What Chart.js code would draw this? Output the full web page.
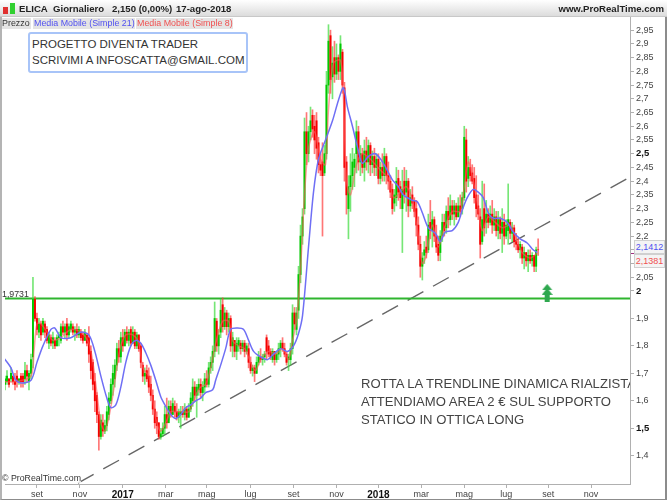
<!DOCTYPE html>
<html>
<head>
<meta charset="utf-8">
<script src="https://cdn.jsdelivr.net/npm/chart.js@4"></script>
<style>
body{margin:0;background:#fff;font-family:"Liberation Sans",Arial,sans-serif;}
#wrap{position:relative;width:667px;height:500px;overflow:hidden;}
#wrap canvas{position:absolute;left:0;top:0;}
.t{position:absolute;white-space:nowrap;pointer-events:none;}
.hd{position:absolute;top:3px;font:bold 9.6px 'Liberation Sans';color:#222;white-space:nowrap;}
#head{position:absolute;left:0;top:0;width:667px;height:17px;background:linear-gradient(#fff,#dcdcdc);border-bottom:1px solid #c8c8c8;box-sizing:border-box;}
#frame{position:absolute;left:0;top:17px;width:667px;height:483px;box-sizing:border-box;border-left:2px solid #b4b4b4;border-right:2px solid #8c8c8c;border-bottom:1px solid #8c8c8c;pointer-events:none;}
.tab{position:absolute;top:18px;height:11px;line-height:11px;font-size:8.9px;background:#e4e4e4;white-space:nowrap;}
.lastv{position:absolute;left:634px;width:29px;height:12px;line-height:12px;font-size:9px;background:#f4f4f4;border:1px solid #d0d0d0;box-sizing:content-box;text-align:center;}
</style>
</head>
<body>
<div id="wrap">
<canvas id="eli" width="667" height="500"></canvas>
<div id="head"></div>
<div class="t" style="left:3px;top:7px;width:5px;height:7px;background:#e03030;"></div>
<div class="t" style="left:10px;top:3px;width:5px;height:11px;background:#30d030;"></div>
<div class="hd" style="left:19px;">ELICA</div>
<div class="hd" style="left:53px;">Giornaliero</div>
<div class="hd" style="left:112px;">2,150 (0,00%)</div>
<div class="hd" style="left:176px;">17-ago-2018</div>
<div class="hd" style="right:3px;">www.ProRealTime.com</div>
<div class="tab" style="left:2px;width:29px;color:#333;">Prezzo</div>
<div class="tab" style="left:33px;width:101px;padding-left:1px;color:#5050f0;">Media Mobile (Simple 21)</div>
<div class="tab" style="left:136px;width:96px;padding-left:1px;color:#f05050;">Media Mobile (Simple 8)</div>
<div class="t" style="left:28px;top:32px;width:220px;height:41px;box-sizing:border-box;border:2px solid #a8c4f8;border-radius:3px;background:#fff;"></div>
<div class="t" style="left:32px;top:36px;font:11.5px/16px 'Liberation Sans';color:#333;">PROGETTO DIVENTA TRADER<br>SCRIVIMI A INFOSCATTA@GMAIL.COM</div>
<div class="t" style="left:2px;top:289px;font:8.8px 'Liberation Sans';color:#333;">1,9731</div>
<div class="t" style="left:2px;top:473px;font:8.8px 'Liberation Sans';color:#333;background:rgba(255,255,255,.8);">© ProRealTime.com</div>
<div class="t" style="left:361px;top:375px;width:269px;overflow:hidden;font:13.1px/18px 'Liberation Sans';color:#444;">ROTTA LA TRENDLINE DINAMICA RIALZISTA<br>ATTENDIAMO AREA 2 € SUL SUPPORTO<br>STATICO IN OTTICA LONG</div>
<div class="t" style="left:631px;top:253px;width:4px;height:1px;background:#a03080;"></div>
<div class="lastv" style="top:240px;color:#5050f0;">2,1412</div>
<div class="lastv" style="top:254px;color:#f05050;">2,1381</div>
<div id="frame"></div>
</div>
<script>
// one bar every 2 px of the picture
const lows=[
1.65,1.64,1.66,1.65,1.67,1.66,1.64,1.65,1.66,1.65,
1.65,1.66,1.67,1.64,1.68,1.72,1.89,1.84,1.83,1.82,
1.84,1.83,1.81,1.79,1.80,1.79,1.79,1.80,1.80,1.81,
1.84,1.83,1.82,1.83,1.85,1.84,1.82,1.83,1.83,1.82,
1.81,1.82,1.80,1.74,1.68,1.64,1.56,1.52,1.42,1.46,
1.47,1.48,1.49,1.53,1.59,1.62,1.65,1.71,1.74,1.74,
1.78,1.80,1.81,1.80,1.80,1.81,1.79,1.79,1.78,1.72,
1.67,1.66,1.67,1.63,1.60,1.55,1.50,1.48,1.46,1.46,
1.47,1.48,1.50,1.53,1.54,1.55,1.54,1.53,1.52,1.50,
1.54,1.53,1.53,1.54,1.56,1.58,1.60,1.54,1.62,1.61,
1.60,1.63,1.65,1.65,1.70,1.71,1.76,1.78,1.77,1.83,
1.85,1.86,1.84,1.85,1.78,1.76,1.76,1.75,1.78,1.77,
1.78,1.76,1.77,1.72,1.70,1.69,1.67,1.70,1.73,1.74,
1.73,1.74,1.75,1.76,1.75,1.74,1.73,1.74,1.75,1.76,
1.78,1.76,1.73,1.71,1.73,1.77,1.86,1.84,1.90,2.03,
2.17,2.28,2.46,2.47,2.55,2.56,2.50,2.48,2.43,2.42,
2.20,2.42,2.48,2.72,2.72,2.70,2.76,2.77,2.77,2.77,
2.72,2.40,2.28,2.19,2.29,2.37,2.38,2.43,2.44,2.42,
2.43,2.40,2.44,2.43,2.42,2.43,2.42,2.42,2.39,2.39,
2.40,2.40,2.39,2.37,2.34,2.28,2.29,2.31,2.33,2.30,
2.14,2.32,2.29,2.27,2.29,2.30,2.27,2.20,2.15,2.05,
2.04,2.10,2.12,2.14,2.19,2.16,2.18,2.14,2.11,2.11,
2.18,2.20,2.21,2.23,2.24,2.26,2.24,2.26,2.27,2.27,
2.28,2.33,2.36,2.38,2.40,2.39,2.32,2.27,2.26,2.12,
2.17,2.20,2.21,2.23,2.24,2.21,2.22,2.20,2.19,2.19,
2.14,2.17,2.19,2.17,2.19,2.18,2.16,2.15,2.14,2.12,
2.10,2.08,2.09,2.07,2.10,2.09,2.07,2.07,2.13];
const highs=[
1.70,1.69,1.71,1.68,1.72,1.69,1.70,1.71,1.68,1.70,
1.70,1.74,1.73,1.71,1.77,2.05,1.98,1.92,1.90,1.89,
1.90,1.89,1.87,1.85,1.84,1.85,1.83,1.84,1.85,1.88,
1.89,1.88,1.90,1.88,1.89,1.88,1.87,1.88,1.87,1.86,
1.85,1.86,1.84,1.87,1.80,1.75,1.70,1.63,1.56,1.55,
1.55,1.53,1.58,1.63,1.68,1.73,1.75,1.81,1.82,1.85,
1.86,1.86,1.87,1.86,1.87,1.87,1.86,1.85,1.84,1.81,
1.74,1.72,1.73,1.72,1.69,1.64,1.60,1.56,1.52,1.50,
1.52,1.58,1.61,1.60,1.60,1.61,1.60,1.59,1.57,1.58,
1.58,1.59,1.58,1.59,1.63,1.68,1.67,1.66,1.68,1.68,
1.67,1.70,1.71,1.74,1.76,1.80,1.96,1.90,1.86,1.97,
1.975,1.94,1.93,1.92,1.91,1.85,1.82,1.83,1.83,1.82,
1.82,1.82,1.81,1.81,1.76,1.73,1.73,1.76,1.78,1.79,
1.77,1.78,1.84,1.82,1.79,1.79,1.78,1.78,1.81,1.82,
1.83,1.81,1.78,1.77,1.81,1.95,1.94,1.94,2.09,2.24,
2.30,2.63,2.65,2.60,2.67,2.66,2.64,2.65,2.56,2.50,
2.54,2.53,2.80,2.97,2.95,2.89,2.91,2.90,2.86,2.93,
2.88,2.76,2.49,2.42,2.50,2.52,2.50,2.62,2.60,2.53,
2.52,2.55,2.56,2.55,2.54,2.51,2.52,2.50,2.50,2.47,
2.50,2.52,2.50,2.47,2.42,2.39,2.37,2.45,2.44,2.40,
2.44,2.45,2.44,2.41,2.37,2.38,2.34,2.33,2.27,2.20,
2.14,2.18,2.20,2.28,2.33,2.29,2.27,2.24,2.20,2.22,
2.28,2.28,2.31,2.34,2.35,2.33,2.33,2.32,2.34,2.35,
2.36,2.60,2.59,2.49,2.48,2.46,2.45,2.42,2.35,2.30,
2.40,2.39,2.33,2.30,2.31,2.33,2.30,2.29,2.29,2.27,
2.30,2.28,2.26,2.39,2.26,2.25,2.24,2.21,2.19,2.18,
2.17,2.16,2.14,2.15,2.15,2.14,2.13,2.16,2.19];
const opens=[
1.69,1.66,1.67,1.68,1.68,1.69,1.67,1.69,1.67,1.69,
1.69,1.68,1.71,1.67,1.70,1.76,1.97,1.90,1.85,1.88,
1.85,1.88,1.86,1.81,1.83,1.81,1.82,1.80,1.83,1.82,
1.87,1.85,1.88,1.84,1.86,1.87,1.85,1.86,1.84,1.85,
1.84,1.82,1.84,1.83,1.78,1.74,1.67,1.62,1.55,1.47,
1.52,1.49,1.51,1.55,1.60,1.66,1.68,1.73,1.79,1.76,
1.83,1.80,1.85,1.82,1.86,1.81,1.85,1.80,1.84,1.80,
1.73,1.69,1.71,1.69,1.66,1.62,1.57,1.54,1.52,1.47,
1.48,1.50,1.55,1.52,1.58,1.55,1.58,1.56,1.54,1.55,
1.56,1.55,1.57,1.54,1.57,1.60,1.65,1.62,1.64,1.66,
1.63,1.65,1.68,1.66,1.72,1.74,1.78,1.89,1.80,1.85,
1.95,1.87,1.92,1.87,1.90,1.80,1.82,1.78,1.80,1.81,
1.79,1.81,1.78,1.79,1.74,1.71,1.72,1.70,1.74,1.76,
1.75,1.76,1.83,1.80,1.78,1.75,1.78,1.75,1.77,1.79,
1.81,1.79,1.77,1.75,1.75,1.79,1.92,1.86,1.93,2.06,
2.20,2.30,2.58,2.50,2.58,2.64,2.60,2.62,2.54,2.46,
2.47,2.43,2.50,2.75,2.93,2.78,2.85,2.79,2.85,2.80,
2.87,2.74,2.47,2.30,2.38,2.42,2.45,2.50,2.58,2.47,
2.50,2.45,2.51,2.47,2.53,2.46,2.49,2.45,2.48,2.41,
2.45,2.42,2.49,2.42,2.40,2.37,2.32,2.34,2.41,2.38,
2.30,2.40,2.36,2.40,2.31,2.35,2.33,2.30,2.24,2.17,
2.09,2.13,2.16,2.15,2.25,2.22,2.26,2.20,2.17,2.14,
2.20,2.25,2.23,2.29,2.26,2.31,2.28,2.31,2.27,2.31,
2.30,2.34,2.55,2.41,2.45,2.43,2.41,2.35,2.31,2.27,
2.18,2.30,2.25,2.28,2.25,2.28,2.24,2.27,2.22,2.26,
2.21,2.25,2.20,2.22,2.25,2.21,2.23,2.18,2.17,2.15,
2.16,2.12,2.14,2.11,2.13,2.11,2.13,2.09,2.15];
const closes=[
1.66,1.68,1.69,1.66,1.70,1.67,1.66,1.67,1.68,1.67,
1.67,1.71,1.69,1.70,1.75,1.97,1.90,1.86,1.88,1.84,
1.89,1.85,1.82,1.84,1.81,1.83,1.80,1.83,1.84,1.87,
1.85,1.87,1.84,1.87,1.88,1.85,1.86,1.84,1.86,1.83,
1.82,1.85,1.81,1.77,1.71,1.66,1.60,1.55,1.47,1.53,
1.49,1.51,1.56,1.61,1.66,1.70,1.73,1.79,1.76,1.83,
1.80,1.85,1.82,1.85,1.81,1.85,1.80,1.84,1.79,1.74,
1.69,1.70,1.68,1.65,1.62,1.57,1.52,1.51,1.47,1.48,
1.50,1.55,1.52,1.58,1.55,1.59,1.56,1.54,1.56,1.56,
1.55,1.57,1.54,1.57,1.61,1.65,1.62,1.65,1.66,1.63,
1.65,1.68,1.66,1.72,1.74,1.78,1.90,1.80,1.84,1.93,
1.87,1.92,1.87,1.90,1.80,1.83,1.78,1.81,1.82,1.79,
1.81,1.78,1.80,1.74,1.71,1.72,1.70,1.74,1.76,1.75,
1.76,1.77,1.78,1.77,1.76,1.78,1.75,1.77,1.79,1.81,
1.79,1.77,1.74,1.76,1.79,1.92,1.88,1.92,2.06,2.20,
2.27,2.58,2.50,2.58,2.62,2.59,2.55,2.52,2.46,2.44,
2.42,2.50,2.75,2.91,2.77,2.83,2.79,2.85,2.80,2.90,
2.75,2.45,2.35,2.38,2.42,2.47,2.48,2.58,2.47,2.50,
2.45,2.51,2.47,2.53,2.46,2.49,2.45,2.48,2.41,2.45,
2.42,2.49,2.42,2.40,2.36,2.30,2.35,2.40,2.36,2.34,
2.37,2.35,2.40,2.31,2.34,2.32,2.29,2.24,2.17,2.09,
2.12,2.15,2.14,2.24,2.22,2.26,2.20,2.16,2.13,2.20,
2.25,2.22,2.29,2.26,2.31,2.28,2.31,2.27,2.31,2.29,
2.34,2.56,2.40,2.45,2.42,2.40,2.34,2.30,2.28,2.17,
2.26,2.23,2.28,2.25,2.28,2.24,2.27,2.22,2.26,2.21,
2.25,2.20,2.24,2.26,2.21,2.23,2.18,2.17,2.15,2.17,
2.12,2.14,2.11,2.13,2.11,2.13,2.09,2.15,2.15];

// moving averages, read at the places where the line turns (session, price)
const ma21At=[
0,4,6,9,14,17,20,24,26,29,
34,39,43,46,49,52,54,56.5,59,61.5,
64,66.5,69,71.5,74,76.5,79,81.5,84,86.5,
89,91.5,94,96.5,99,101.5,105,106.5,109,111.5,
114,117.5,120.5,123,125.5,129,132.5,135.5,139,142.5,
145.5,148,150,153,155.5,158,161.5,165,168,170.5,
172.5,175,178,180,183,186.5,190.5,195,198,200.5,
205,207.5,210,213,216.5,219,221.5,225,228,230,
232.5,235.5,238,240.5,243,245.5,249,252.5,255.5,259,
262.5,265.5,267.5];
const ma21=[
1.76,1.72,1.68,1.665,1.675,1.74,1.80,1.86,1.865,1.83,
1.83,1.85,1.84,1.78,1.69,1.61,1.575,1.585,1.65,1.74,
1.80,1.82,1.81,1.775,1.73,1.675,1.615,1.58,1.55,1.535,
1.55,1.575,1.585,1.60,1.61,1.63,1.64,1.675,1.73,1.79,
1.86,1.865,1.86,1.82,1.78,1.76,1.75,1.77,1.79,1.78,
1.80,1.845,1.91,2.16,2.36,2.48,2.55,2.62,2.695,2.74,
2.67,2.60,2.51,2.465,2.49,2.50,2.465,2.405,2.38,2.35,
2.33,2.325,2.285,2.23,2.21,2.18,2.215,2.22,2.25,2.295,
2.34,2.37,2.36,2.34,2.285,2.265,2.265,2.25,2.215,2.19,
2.175,2.15,2.14];
const ma8At=[
0,6.5,14,15.5,17,19,22,25,29,34,
39,43,45,47,49,51,53,55,57,59,
61.5,65,68,70,73,75,77,79,81.5,84,
87,90,93,96.5,99,101.5,104,106.5,110,113,
115,118,121,124,126.5,129,133,136.5,140,143,
145,147,149,151,153,156,159,161.5,163,165.5,
169,170.5,172,174,177,180,184,189,193,195.5,
199,202,205,208,210,212,215,218,221,225,
229,231,233,235,238,240,243,246.5,250,254,
257,260,264,267.5];
const ma8=[
1.67,1.67,1.69,1.78,1.88,1.88,1.85,1.82,1.83,1.86,
1.85,1.81,1.74,1.63,1.52,1.49,1.54,1.62,1.72,1.80,
1.84,1.84,1.81,1.72,1.69,1.60,1.52,1.49,1.52,1.56,
1.56,1.56,1.56,1.62,1.65,1.66,1.72,1.81,1.89,1.89,
1.82,1.80,1.79,1.74,1.71,1.75,1.78,1.77,1.79,1.75,
1.82,1.89,2.08,2.35,2.52,2.58,2.48,2.46,2.66,2.83,
2.84,2.70,2.40,2.35,2.46,2.50,2.48,2.44,2.41,2.34,
2.36,2.38,2.33,2.20,2.10,2.13,2.24,2.16,2.23,2.29,
2.29,2.38,2.47,2.42,2.30,2.22,2.27,2.25,2.23,2.24,
2.19,2.14,2.12,2.138];

const supportLevel=1.9731;
const trendAt=[37.5,314], trendVals=[1.3005,2.415];
const arrowAt=272.5, arrowVal=1.993;

const yTicks=[2.95,2.9,2.85,2.8,2.75,2.7,2.65,2.6,2.55,2.5,2.45,2.4,2.35,2.3,2.25,2.2,2.15,2.1,2.05,2,1.9,1.8,1.7,1.6,1.5,1.4];
const yBold=[2.5,2,1.5];
const xTickAt=[17,38.5,60,81.5,102,124,145.5,167,188,209.5,231,252,273,294.5];
const xTickLabels=["set","nov","2017","mar","mag","lug","set","nov","2018","mar","mag","lug","set","nov"];

const pairs=(xs,ys)=>xs.map((x,i)=>({x:x,y:ys[i]}));
const isUp=i=>closes[i]>opens[i];
const isYear=c=>c.tick&&xTickLabels[xTickAt.indexOf(c.tick.value)].length>3;
const isBoldY=c=>c.tick&&yBold.includes(c.tick.value);

// little green arrow used as point style
const arrow=document.createElement("canvas");
arrow.width=11;arrow.height=18;
let a=arrow.getContext("2d");
a.fillStyle="#2fa84f";
a.beginPath();a.moveTo(5.5,0);a.lineTo(10.5,6);a.lineTo(.5,6);a.fill();
a.beginPath();a.moveTo(5.5,4);a.lineTo(11,11);a.lineTo(0,11);a.fill();
a.fillRect(3,10,5,8);

new Chart(document.getElementById("eli"),{
	type:"bar",
	data:{
		datasets:[
			{
				label:"wick",
				data:lows.map((l,i)=>({x:i,y:[l,highs[i]]})),
				backgroundColor:lows.map((l,i)=>isUp(i)?"rgba(60,220,60,.7)":"rgba(255,60,60,.7)"),
				barThickness:1,grouped:false,order:6
			},
			{
				label:"body",
				data:opens.map((o,i)=>({x:i,y:[Math.min(o,closes[i]),Math.max(o,closes[i])]})),
				backgroundColor:opens.map((o,i)=>isUp(i)?"#00c800":"#f50000"),
				barThickness:1.3,grouped:false,order:5
			},
			{type:"line",label:"Media Mobile (Simple 8)",data:pairs(ma8At,ma8),borderColor:"rgba(255,90,90,.6)",borderWidth:1.5,pointRadius:0,tension:.3,order:3},
			{type:"line",label:"Media Mobile (Simple 21)",data:pairs(ma21At,ma21),borderColor:"#6f6ff5",borderWidth:1.5,pointRadius:0,tension:.3,order:2},
			{type:"line",label:"supporto",data:[{x:0,y:supportLevel},{x:314,y:supportLevel}],borderColor:"#2fb52f",borderWidth:2,pointRadius:0,order:7},
			{type:"line",label:"trendline",data:pairs(trendAt,trendVals),borderColor:"#666",borderWidth:1.4,borderDash:[18,11],pointRadius:0,order:8},
			{type:"scatter",label:"freccia",data:[{x:arrowAt,y:arrowVal}],pointStyle:arrow,order:1}
		]
	},
	options:{
		responsive:false,
		animation:false,
		layout:{padding:{top:17,left:2,right:0,bottom:0}},
		plugins:{legend:{display:false},tooltip:{enabled:false}},
		scales:{
			x:{
				type:"linear",min:1,max:314,offset:false,
				afterBuildTicks:s=>{s.ticks=xTickAt.map(v=>({value:v}));},
				afterFit:s=>{s.height=16;},
				grid:{drawOnChartArea:false,tickLength:4,color:"#b0b0b0",offset:false},
				border:{color:"#b0b0b0",width:1},
				ticks:{
					autoSkip:false,maxRotation:0,padding:1,color:c=>isYear(c)?"#111":"#444",
					font:c=>isYear(c)?{family:"Liberation Sans",size:10,weight:"bold"}:{family:"Liberation Sans",size:9},
					callback:v=>xTickLabels[xTickAt.indexOf(v)]
				}
			},
			y:{
				position:"right",min:1.297,max:2.998,
				afterBuildTicks:s=>{s.ticks=yTicks.map(v=>({value:v}));},
				afterFit:s=>{s.width=37;},
				grid:{drawOnChartArea:false,tickLength:4,color:"#b0b0b0"},
				border:{color:"#b0b0b0",width:1},
				ticks:{
					autoSkip:false,padding:2,color:c=>isBoldY(c)?"#111":"#444",
					font:c=>isBoldY(c)?{family:"Liberation Sans",size:9.5,weight:"bold"}:{family:"Liberation Sans",size:9},
					callback:v=>String(v).replace(".",",")
				}
			}
		}
	}
});
</script>
</body>
</html>
